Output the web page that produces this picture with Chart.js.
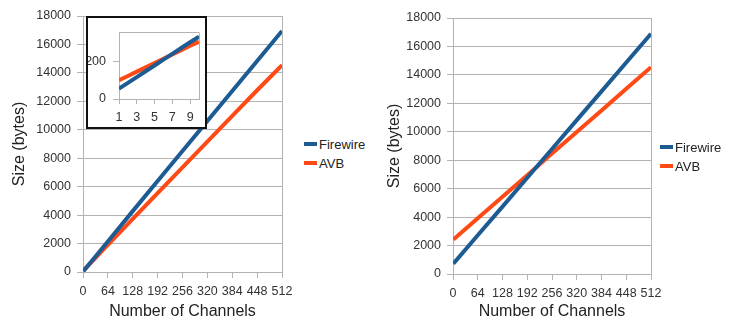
<!DOCTYPE html>
<html>
<head>
<meta charset="utf-8">
<script src="https://cdn.jsdelivr.net/npm/chart.js@4.4.1/dist/chart.umd.min.js"></script>
<style>
    body { margin: 0; background: #fff; width: 737px; height: 323px; position: relative; overflow: hidden; font-family: 'Liberation Sans', Arial, sans-serif; }
    canvas { position: absolute; }
    .inset { position: absolute; left: 86px; top: 16px; width: 121px; height: 113px; box-sizing: border-box; border: 2px solid #111; background: #fff; }
    .inset canvas { left: 0; top: 0; }
    .lg { position: absolute; display: flex; align-items: center; height: 16px; font-size: 13px; color: #222; white-space: nowrap; }
    .lg span { display: inline-block; width: 13px; height: 4px; margin-right: 2px; }
</style>
</head>
<body>
<canvas id="leftChart" width="300" height="323" style="left:0;top:0"></canvas>
<canvas id="rightChart" width="300" height="323" style="left:370px;top:0"></canvas>
<div class="inset"><canvas id="insetChart" width="117" height="109"></canvas></div>

<div class="lg" style="left:304px;top:136px"><span style="background:#1d5b93"></span>Firewire</div>
<div class="lg" style="left:304px;top:155px"><span style="background:#ff4a16"></span>AVB</div>
<div class="lg" style="left:660px;top:139px"><span style="background:#1d5b93"></span>Firewire</div>
<div class="lg" style="left:660px;top:158px"><span style="background:#ff4a16"></span>AVB</div>

<script>
const channels = [1, 64, 128, 192, 256, 320, 384, 448, 512];
const xTicks = [0, 64, 128, 192, 256, 320, 384, 448, 512];
const yTicks = [0, 2000, 4000, 6000, 8000, 10000, 12000, 14000, 16000, 18000];

// left chart
const firewireLeft = [55, 2150, 4280, 6400, 8510, 10620, 12730, 14840, 16950];
const avbLeft = [100, 1910, 3730, 5540, 7350, 9160, 10970, 12780, 14550];

// right chart
const firewireRight = [730, 2720, 4740, 6770, 8790, 10820, 12840, 14870, 16890];
const avbRight = [2420, 3920, 5430, 6950, 8470, 9980, 11500, 13020, 14540];

// inset (first 10 channels)
const insetChannels = [1, 2, 3, 4, 5, 6, 7, 8, 9, 10];
const firewireInset = [55, 86, 117, 148, 179, 210, 241, 272, 303, 333];
const avbInset = [100, 123, 146, 169, 192, 215, 238, 261, 284, 306];
const insetXTicks = [1, 3, 5, 7, 9];
const insetYTicks = [0, 200];

const BLUE = '#1d5b93';
const ORANGE = '#ff4a16';
const GRID = '#b3b3b3';

Chart.defaults.font.family = "'Liberation Sans', Arial, sans-serif";
Chart.defaults.color = '#333';

const toPoints = (xs, ys) => xs.map((x, i) => ({ x: x, y: ys[i] }));

function makeMainChart(id, fw, avb, area, titlePad) {
    return new Chart(document.getElementById(id), {
        type: 'line',
        data: {
            datasets: [{
                label: 'Firewire',
                data: toPoints(channels, fw),
                borderColor: BLUE,
                backgroundColor: BLUE,
                borderWidth: 4,
                pointRadius: 0
            }, {
                label: 'AVB',
                data: toPoints(channels, avb),
                borderColor: ORANGE,
                backgroundColor: ORANGE,
                borderWidth: 4,
                pointRadius: 0
            }]
        },
        options: {
            responsive: false,
            animation: false,
            devicePixelRatio: 1,
            layout: { padding: { top: area.top, right: area.right, left: 0, bottom: 0 } },
            plugins: { legend: { display: false }, tooltip: { enabled: false } },
            scales: {
                x: {
                    type: 'linear',
                    min: 0,
                    max: 512,
                    afterBuildTicks: s => { s.ticks = xTicks.map(v => ({ value: v })); },
                    afterFit: s => { s.height = area.xHeight; },
                    ticks: { autoSkip: false, maxRotation: 0, padding: 6, font: { size: 12.5 }, color: '#333', callback: v => String(v) },
                    grid: {
                        color: c => (c.tick && c.tick.value === 512) ? GRID : 'rgba(0,0,0,0)',
                        tickColor: GRID,
                        tickLength: 6
                    },
                    border: { color: GRID },
                    title: { display: true, text: 'Number of Channels', font: { size: 16 }, color: '#222', padding: { top: 0, bottom: 2 } }
                },
                y: {
                    min: 0,
                    max: 18000,
                    afterBuildTicks: s => { s.ticks = yTicks.map(v => ({ value: v })); },
                    afterFit: s => { s.width = area.yWidth; },
                    ticks: { padding: 6, font: { size: 12.5 }, color: '#333', callback: v => String(v) },
                    grid: { color: GRID, tickColor: GRID, tickLength: 6 },
                    border: { color: GRID },
                    title: { display: true, text: 'Size (bytes)', font: { size: 16 }, color: '#222', padding: { top: titlePad, bottom: 0 } }
                }
            }
        }
    });
}

makeMainChart('leftChart', firewireLeft, avbLeft, { top: 16, right: 18, xHeight: 51, yWidth: 83 }, 10);
makeMainChart('rightChart', firewireRight, avbRight, { top: 18, right: 19, xHeight: 49, yWidth: 83 }, 15);

// inset chart
new Chart(document.getElementById('insetChart'), {
    type: 'line',
    data: {
        datasets: [{
            label: 'Firewire',
            data: toPoints(insetChannels, firewireInset),
            borderColor: BLUE,
            borderWidth: 4,
            pointRadius: 0
        }, {
            label: 'AVB',
            data: toPoints(insetChannels, avbInset),
            borderColor: ORANGE,
            borderWidth: 4,
            pointRadius: 0
        }]
    },
    options: {
        responsive: false,
        animation: false,
        devicePixelRatio: 1,
        layout: { padding: { top: 3, right: 4, left: 0, bottom: 0 } },
        plugins: { legend: { display: false }, tooltip: { enabled: false } },
        scales: {
            x: {
                type: 'linear',
                min: 1,
                max: 10,
                afterBuildTicks: s => { s.ticks = insetXTicks.concat([10]).map(v => ({ value: v })); },
                afterFit: s => { s.height = 28; },
                ticks: { autoSkip: false, maxRotation: 0, padding: 6, font: { size: 12.5 }, color: '#333',
                    callback: v => insetXTicks.includes(v) ? String(v) : '' },
                grid: {
                    color: c => (c.tick && c.tick.value === 10) ? GRID : 'rgba(0,0,0,0)',
                    tickColor: c => (c.tick && c.tick.value === 10) ? 'rgba(0,0,0,0)' : GRID,
                    tickLength: 5
                },
                border: { color: GRID }
            },
            y: {
                min: 0,
                max: 355,
                afterBuildTicks: s => { s.ticks = insetYTicks.concat([355]).map(v => ({ value: v })); },
                afterFit: s => { s.width = 31; },
                ticks: { padding: 7, font: { size: 12.5 }, color: '#333',
                    callback: v => insetYTicks.includes(v) ? String(v) : '' },
                grid: {
                    color: c => (c.tick && c.tick.value === 200) ? 'rgba(0,0,0,0)' : GRID,
                    tickColor: c => (c.tick && c.tick.value === 355) ? 'rgba(0,0,0,0)' : GRID,
                    tickLength: 6
                },
                border: { color: GRID }
            }
        }
    }
});
</script>
</body>
</html>
